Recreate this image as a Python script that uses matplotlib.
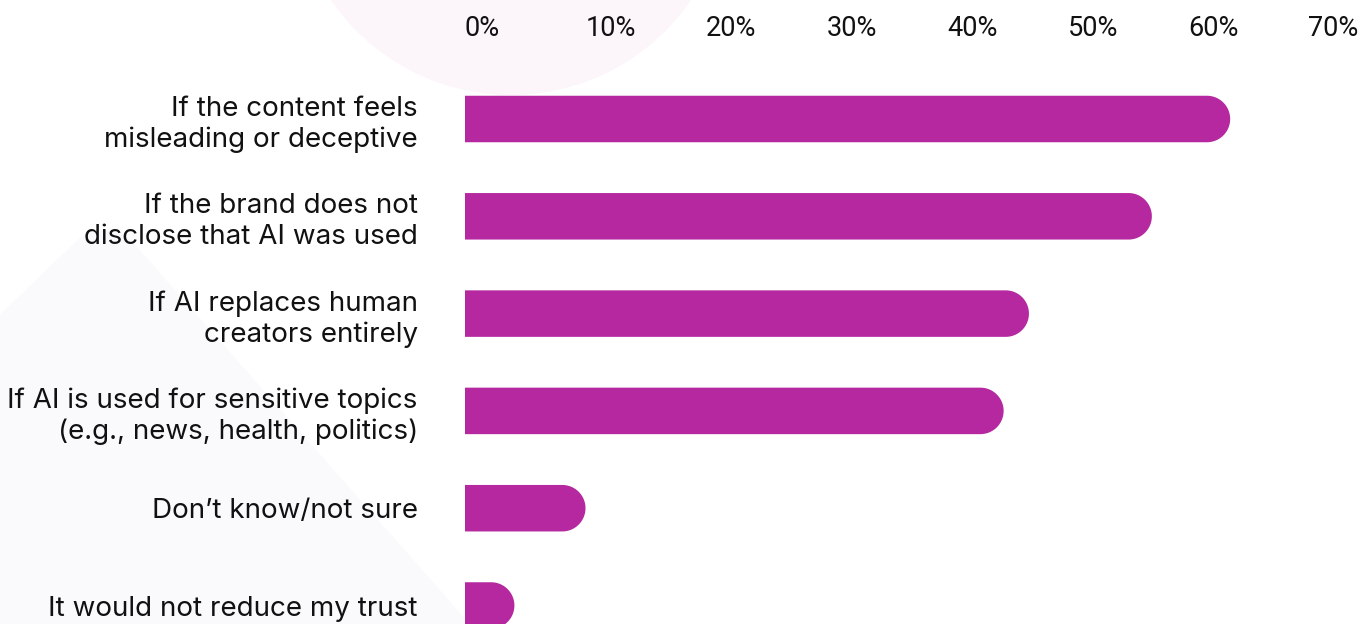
import numpy as np
import matplotlib.pyplot as plt
from matplotlib.patches import Polygon, Circle

# survey answers, top to bottom
categories = [
    "If the content feels\nmisleading or deceptive",
    "If the brand does not\ndisclose that AI was used",
    "If AI replaces human\ncreators entirely",
    "If AI is used for sensitive topics\n(e.g., news, health, politics)",
    "Don\u2019t know/not sure",
    "It would not reduce my trust",
]
shares = [63.5, 57.0, 46.8, 44.7, 10.0, 4.1]
ticks = [0, 10, 20, 30, 40, 50, 60, 70]
tick_labels = [f"{t}%" for t in ticks]

BAR = "#B5289F"
W, H = 1367, 624
fig = plt.figure(figsize=(W / 100, H / 100), dpi=100)
fig.patch.set_facecolor("white")

# faint decorative shapes behind the chart, in pixel units
bg = fig.add_axes([0, 0, 1, 1], zorder=0)
bg.set_xlim(0, W)
bg.set_ylim(H, 0)
bg.axis("off")
bg.add_patch(Circle((511, -123), 218, color="#FCF5FA", lw=0))
t = np.linspace(np.pi * 1.25, np.pi * 1.75, 30)
apex = np.column_stack([104 + 40 * np.cos(t), 270 + 40 * np.sin(t)])
shape = np.vstack([[[-420, 720]], apex, [[590, 760]]])
bg.add_patch(Polygon(shape, closed=True, color="#FAFAFC", lw=0))

# main axes: left edge at 0%, rows every ~97 px starting at y=119
left_px, right_px, top_px = 465, 1308.5, 70
row0, pitch = 119, 97.3
ax = fig.add_axes([left_px / W, 0, (right_px - left_px) / W, 1 - top_px / H], zorder=1)
ax.set_facecolor("none")
ax.set_xlim(0, 70)
ax.set_ylim((H - row0) / pitch, (top_px - row0) / pitch)

bar_h = 46.5 / pitch
rx = (bar_h / 2 * pitch) * 70 / (right_px - left_px)  # cap radius in x units
y = np.arange(len(categories))
theta = np.linspace(-np.pi / 2, np.pi / 2, 60)
for yi, v in zip(y, shares):
    cx = v - rx
    cap = np.column_stack([cx + rx * np.cos(theta), yi + bar_h / 2 * np.sin(theta)])
    pts = np.vstack([[[0, yi - bar_h / 2]], cap, [[0, yi + bar_h / 2]]])
    ax.add_patch(Polygon(pts, closed=True, facecolor=BAR, edgecolor="none"))

ax.set_yticks(y)
ax.set_yticklabels(categories, fontsize=20, family="Inter", color="#111111",
                   ha="right", multialignment="right", linespacing=1.22)
ax.tick_params(axis="y", length=0, pad=34)

ax.xaxis.tick_top()
ax.set_xticks(ticks)
ax.set_xticklabels(tick_labels, fontsize=19.5, family="Roboto", color="#111111", ha="left")
ax.tick_params(axis="x", length=0, pad=20)
for s in ax.spines.values():
    s.set_visible(False)

fig.savefig("out.png", dpi=100)
